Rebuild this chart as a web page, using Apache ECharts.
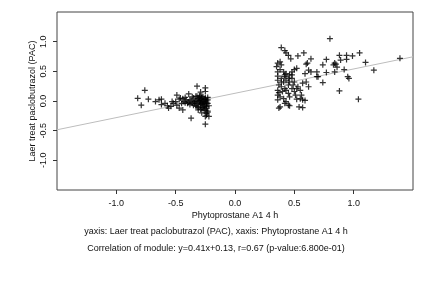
<!DOCTYPE html>
<html>
<head>
<meta charset="utf-8">
<script src="https://cdn.jsdelivr.net/npm/echarts@6/dist/echarts.min.js"></script>
<style>html,body{margin:0;padding:0;background:#fff}#c{width:432px;height:288px}</style>
</head>
<body>
<div id="c"></div>
<script>
// Left cluster (x, y)
var leftX = [-0.82,-0.76,-0.79,-0.73,-0.67,-0.64,-0.62,-0.62,-0.59,-0.57,-0.56,-0.54,-0.53,-0.52,-0.50,-0.49,-0.49,-0.47,-0.47,-0.46,-0.44,-0.43,-0.42,-0.40,-0.39,-0.38,-0.37,-0.36,-0.35,-0.34,-0.33,-0.32,-0.32,-0.31,-0.31,-0.30,-0.29,-0.29,-0.28,-0.28,-0.27,-0.27,-0.26,-0.26,-0.25,-0.25,-0.25,-0.25,-0.25,-0.24,-0.24,-0.24,-0.23,-0.23,
 -0.34,-0.33,-0.32,-0.31,-0.30,-0.30,-0.29,-0.29,-0.28,-0.28,-0.27,-0.27,-0.26,-0.26,-0.26,-0.25,-0.25,-0.24,-0.24,-0.23,-0.23,-0.23,-0.22,-0.22,-0.36,-0.37,-0.38,-0.39,-0.41,-0.42,-0.44,-0.45,-0.32,-0.30,-0.28,-0.35,-0.33,-0.31,-0.29,-0.27,-0.25,-0.24];
var leftY = [0.045,0.18,-0.07,0.03,-0.01,0.02,0.03,-0.06,-0.04,-0.08,-0.12,-0.09,-0.01,-0.04,-0.01,-0.07,0.10,0.03,-0.12,0.05,-0.15,-0.01,0.06,-0.04,0.12,0.02,-0.29,0.07,-0.07,-0.01,0.08,-0.09,0.25,0.02,-0.15,0.06,-0.04,0.15,-0.12,-0.20,-0.01,0.07,-0.07,-0.15,0.22,0.16,-0.26,-0.39,0.02,-0.09,-0.24,-0.03,0.06,-0.17,
 -0.03,0.00,-0.05,0.04,-0.02,0.01,-0.06,0.03,-0.03,0.05,-0.05,0.00,-0.02,0.03,-0.10,-0.05,0.05,0.00,-0.12,-0.04,0.02,-0.19,-0.08,-0.26,-0.04,0.00,-0.06,-0.02,0.02,-0.03,0.04,-0.04,0.08,0.09,0.08,0.05,-0.08,-0.11,-0.14,-0.11,-0.16,-0.21];
// Right cluster (x, y)
var rightX = [0.80,0.39,0.42,0.43,0.45,0.47,0.53,0.58,0.64,0.61,0.60,0.77,0.84,0.85,0.83,0.88,0.89,0.94,0.94,0.99,1.05,1.10,1.17,1.39,0.74,0.77,0.84,0.86,0.92,0.95,0.96,0.74,0.88,1.04,0.64,0.69,0.69,0.70,0.59,0.62,0.60,0.62,0.57,0.55,0.56,0.57,0.59,0.54,0.57,0.52,0.52,0.50,0.48,0.46,0.45,0.43,0.50,0.49,0.48,0.52,0.53,0.45,0.46,0.43,0.45,0.46,0.42,0.41,0.38,0.37,0.36,0.36,0.36,0.37,0.36,0.36,0.36,0.35,0.36,0.38,0.39,0.38,0.41,0.42,0.39,0.41,0.39,0.42,0.40,0.43,0.38,0.45,0.46,0.48,0.48,0.43,0.42,0.39,0.37,0.55,0.51,0.50];
var rightY = [1.05,0.90,0.85,0.81,0.77,0.71,0.76,0.81,0.71,0.64,0.62,0.70,0.64,0.62,0.61,0.77,0.69,0.77,0.70,0.76,0.81,0.65,0.52,0.72,0.61,0.48,0.49,0.57,0.53,0.41,0.38,0.31,0.17,0.03,0.49,0.49,0.41,0.41,0.46,0.52,0.32,0.24,0.30,0.18,0.10,0.02,0.01,-0.10,-0.11,0.03,0.55,0.53,0.49,0.44,0.38,0.35,0.32,0.27,0.21,0.21,0.24,0.13,0.07,-0.01,-0.07,-0.08,-0.04,0.04,-0.10,-0.12,0.02,0.10,0.18,0.27,0.35,0.42,0.49,0.58,0.64,0.66,0.61,0.53,0.49,0.44,0.38,0.32,0.24,0.21,0.16,0.18,0.07,0.27,0.32,0.38,0.44,0.46,0.41,0.32,0.14,0.04,0.10,0.16];
// Regression fit
var fitSlope = 0.41, fitIntercept = 0.13;
var axisMin = -1.5, axisMax = 1.5;
var tickValues = [-1, -0.5, 0, 0.5, 1];
var xTitle = 'Phytoprostane A1 4 h';
var yTitle = 'Laer treat paclobutrazol (PAC)';
var line1 = 'yaxis: Laer treat paclobutrazol (PAC), xaxis: Phytoprostane A1 4 h';
var line2 = 'Correlation of module: y=0.41x+0.13, r=0.67 (p-value:6.800e-01)';

var pts = [];
leftX.forEach(function(x, i){ pts.push([x, leftY[i]]); });
rightX.forEach(function(x, i){ pts.push([x, rightY[i]]); });
var fitLine = [[axisMin, fitSlope*axisMin + fitIntercept],[axisMax, fitSlope*axisMax + fitIntercept]];

var FONT = 'Liberation Sans, Arial, sans-serif';
var chart = echarts.init(document.getElementById('c'), null, {renderer: 'canvas'});
var axisCommon = {
  type: 'value', min: axisMin, max: axisMax, interval: 0.5,
  splitLine: {show: false},
  axisLine: {show: false, onZero: false},
  axisTick: {show: true, inside: false, length: 4, lineStyle: {color: '#333', width: 1}, customValues: tickValues},
  axisLabel: {customValues: tickValues, color: '#111', fontSize: 9, fontFamily: FONT,
    formatter: function(v){ return Number(v).toFixed(1); }},
  nameLocation: 'middle',
  nameMoveOverlap: false,
  nameTextStyle: {color: '#111', fontSize: 9, fontFamily: FONT}
};
chart.setOption({
  animation: false,
  grid: {left: 57, right: 19, top: 12, bottom: 98, show: true, borderColor: '#444', borderWidth: 1, backgroundColor: 'transparent'},
  xAxis: Object.assign({}, axisCommon, {
    name: xTitle, nameGap: 21,
    axisLabel: Object.assign({}, axisCommon.axisLabel, {margin: 9})
  }),
  yAxis: Object.assign({}, axisCommon, {
    name: yTitle, nameGap: 20, nameRotate: 90,
    axisLabel: Object.assign({}, axisCommon.axisLabel, {rotate: 90, margin: 9})
  }),
  graphic: [
    {type: 'text', left: 'center', top: 227, style: {text: line1, fontSize: 9, fontFamily: FONT, fill: '#111'}},
    {type: 'text', left: 'center', top: 244, style: {text: line2, fontSize: 9, fontFamily: FONT, fill: '#111'}}
  ],
  series: [
    {type: 'line', data: fitLine, symbol: 'none', lineStyle: {color: '#bdbdbd', width: 1}, silent: true, z: 1},
    {type: 'scatter', data: pts, symbol: 'path://M-1,-5H1V-1H5V1H1V5H-1V1H-5V-1H-1Z', symbolSize: 6,
      itemStyle: {color: '#000'}, z: 2}
  ]
});
</script>
</body>
</html>
